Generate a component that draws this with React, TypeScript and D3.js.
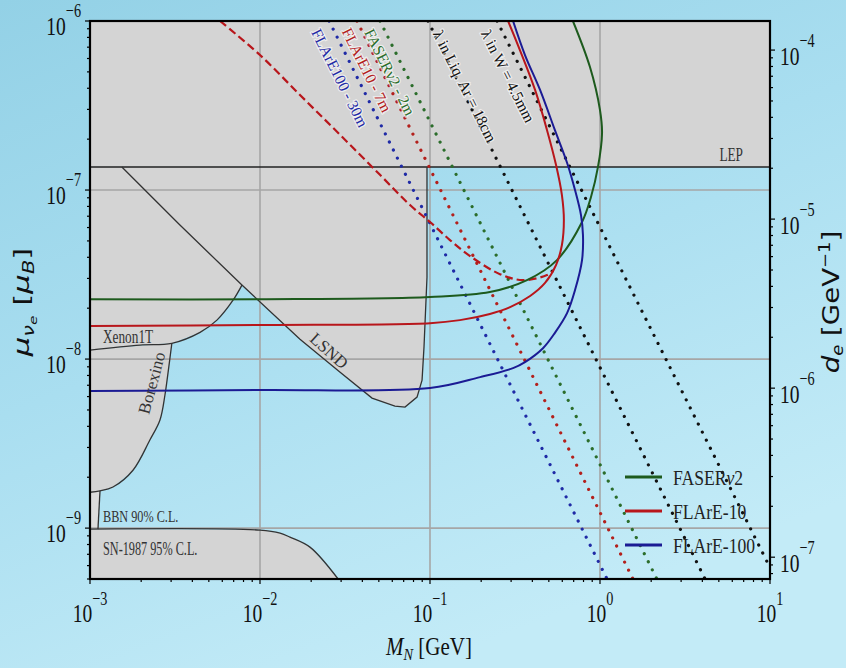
import React from 'react';
import * as d3 from 'd3';

type P = [number, number];

// ---------- axes ----------
const xMajor = [1e-3, 1e-2, 1e-1, 1, 10];
const xMajorExp = ['−3', '−2', '−1', '0', '1'];
const yMajor = [1e-9, 1e-8, 1e-7, 1e-6];
const yMajorExp = ['−9', '−8', '−7', '−6'];
const deMajor = [1e-7, 1e-6, 1e-5, 1e-4];
const deMajorExp = ['−7', '−6', '−5', '−4'];
const X_DOMAIN: P = [1e-3, 10];
const Y_DOMAIN: P = [5e-10, 1e-6];
const DE_PER_MU = 148.6;

// ---------- excluded regions (M_N [GeV], mu [mu_B]) ----------
const LEP_LIMIT = 1.37e-7;
const mainRegion: P[] = [
  [1e-3, 1.37e-7], [0.096, 1.37e-7], [0.096, 3.05e-8], [0.0922, 1.18e-8], [0.0898, 7.51e-9],
  [0.0839, 5.96e-9], [0.0713, 5.2e-9], [0.0622, 5.27e-9], [0.0456, 5.88e-9], [0.0296, 8.37e-9],
  [0.01719, 1.31e-8], [7.83e-3, 2.74e-8], [6.94e-3, 2.23e-8], [5.58e-3, 1.7e-8], [4.44e-3, 1.44e-8],
  [3.03e-3, 1.24e-8], [1.97e-3, 1.21e-8], [1e-3, 1.13e-8],
];
const lsndEdge: P[] = [
  [1.54e-3, 1.37e-7], [3.38e-3, 6.21e-8], [7.83e-3, 2.74e-8], [0.01719, 1.31e-8], [0.0296, 8.37e-9],
  [0.0456, 5.88e-9], [0.0622, 5.27e-9], [0.0713, 5.2e-9], [0.0839, 5.96e-9], [0.0898, 7.51e-9],
  [0.0922, 1.18e-8], [0.096, 3.05e-8], [0.096, 1.37e-7],
];
const xenonEdge: P[] = [
  [1e-3, 1.13e-8], [1.97e-3, 1.21e-8], [3.03e-3, 1.24e-8], [4.44e-3, 1.44e-8], [5.58e-3, 1.7e-8],
  [6.94e-3, 2.23e-8], [7.83e-3, 2.74e-8],
];
const borexinoEdge: P[] = [
  [3.03e-3, 1.24e-8], [2.84e-3, 7.51e-9], [2.76e-3, 6.13e-9], [2.58e-3, 4.36e-9], [2.25e-3, 3.32e-9],
  [1.79e-3, 2.2e-9], [1.365e-3, 1.75e-9], [1.145e-3, 1.66e-9], [1e-3, 1.63e-9],
];
const bbnEdge: P[] = [[1.145e-3, 1.66e-9], [1.114e-3, 9.86e-10]];
const snEdge: P[] = [
  [1e-3, 9.86e-10], [0.01, 9.73e-10], [0.01313, 9.33e-10], [0.015, 8.85e-10], [0.01967, 7.72e-10],
  [0.0288, 5e-10],
];

// ---------- sensitivity curves ----------
const faserCurve: P[] = [
  [1e-3, 2.26e-8], [0.01, 2.26e-8], [0.1, 2.33e-8], [0.225, 2.49e-8], [0.372, 2.93e-8],
  [0.558, 3.85e-8], [0.784, 6.47e-8], [0.885, 9.1e-8], [0.973, 1.37e-7], [1.028, 2.17e-7],
  [1.0, 2.97e-7], [0.873, 5.34e-7], [0.693, 1e-6],
];
const flare10Curve: P[] = [
  [1e-3, 1.57e-8], [0.01, 1.59e-8], [0.1, 1.63e-8], [0.15, 1.7e-8], [0.225, 1.85e-8],
  [0.296, 2.03e-8], [0.388, 2.36e-8], [0.475, 2.82e-8], [0.551, 3.6e-8], [0.597, 4.73e-8],
  [0.613, 6.64e-8], [0.597, 9.33e-8], [0.551, 1.41e-7], [0.488, 2.26e-7], [0.415, 3.91e-7],
  [0.338, 6.73e-7], [0.288, 1e-6],
];
const flare100Curve: P[] = [
  [1e-3, 6.47e-9], [0.01, 6.56e-9], [0.1, 6.74e-9], [0.197, 7.82e-9], [0.308, 8.84e-9],
  [0.362, 9.6e-9], [0.462, 1.16e-8], [0.543, 1.43e-8], [0.64, 1.87e-8], [0.713, 2.56e-8],
  [0.784, 3.85e-8], [0.794, 5.42e-8], [0.773, 7.11e-8], [0.713, 1e-7], [0.64, 1.45e-7],
  [0.543, 2.26e-7], [0.444, 3.91e-7], [0.362, 6.29e-7], [0.308, 1e-6],
];
const flare10Dashed: P[] = [
  [5.82e-3, 1e-6], [0.01, 6.29e-7], [0.01719, 3.65e-7], [0.0296, 2.12e-7], [0.0508, 1.23e-7],
  [0.0763, 8.15e-8], [0.1, 6.47e-8], [0.131, 5.06e-8], [0.172, 4.07e-8], [0.258, 3.18e-8],
  [0.352, 2.93e-8], [0.488, 3.14e-8], [0.529, 3.32e-8],
];

// ---------- decay length contours ----------
const flare100Decay: P[] = [[0.0255, 1e-6], [1.1, 5e-10]];
const flare10Decay: P[] = [[0.0372, 1e-6], [1.563, 5e-10]];
const faserDecay: P[] = [[0.0508, 1e-6], [2.16, 5e-10]];
const lArDecay: P[] = [[0.0973, 1e-6], [4.15, 5e-10]];
const wDecay: P[] = [[0.248, 1e-6], [10.8, 5e-10]];

const legendNames = ['FASERν2', 'FLArE-10', 'FLArE-100'];

const SERIF = "'Liberation Serif', 'DejaVu Serif', 'Times New Roman', serif";
const SANS = "'DejaVu Sans', sans-serif";
const C_GREEN = '#1d5a1d';
const C_RED = '#b8161b';
const C_BLUE = '#1b1b94';
const GREY = '#d4d4d4';

function T(props: any) {
  const { x, y, rot = 0, sx = 1, sy = 1, fs, anchor = 'start', fill = '#111', family = SERIF, children, ...rest } = props;
  return (
    <text
      transform={`translate(${x},${y}) rotate(${rot}) scale(${sx},${sy})`}
      fontSize={fs}
      textAnchor={anchor}
      fontFamily={family}
      fill={fill}
      {...rest}
    >
      {children}
    </text>
  );
}

export default function App() {
  const x = d3.scaleLog().domain(X_DOMAIN).range([90, 770]);
  const y = d3.scaleLog().domain(Y_DOMAIN).range([579, 21]);
  const yR = d3.scaleLog().domain([Y_DOMAIN[0] * DE_PER_MU, Y_DOMAIN[1] * DE_PER_MU]).range([579, 21]);

  const lin = d3.line<P>().x((d) => x(d[0])).y((d) => y(d[1]));
  const smooth = d3.line<P>().x((d) => x(d[0])).y((d) => y(d[1])).curve(d3.curveCatmullRom.alpha(0.5));
  const isMajor = (v: number) => Math.abs(Math.log10(v) - Math.round(Math.log10(v))) < 1e-6;

  const [x0, x1] = x.range();
  const [yb, yt] = y.range();

  const region = (pts: P[]) => lin(pts) + 'Z';

  const borexinoRegion: P[] = [[1e-3, 1.13e-8], ...borexinoEdge];
  const bbnRegion: P[] = [[1e-3, 1.63e-9], ...bbnEdge, [1e-3, 9.86e-10]];
  const snRegion: P[] = [...snEdge, [1e-3, 5e-10]];

  const decayLines = [
    { pts: flare100Decay, color: '#1f2aa6' },
    { pts: flare10Decay, color: '#b3201c' },
    { pts: faserDecay, color: '#2b6d2b' },
    { pts: lArDecay, color: '#111' },
    { pts: wDecay, color: '#111' },
  ];

  const lineLabels = [
    { text: 'FLArE100 - 30m', cx: 340, cy: 78, color: '#1f2aa6' },
    { text: 'FLArE10 - 7m', cx: 367, cy: 70, color: '#b3201c' },
    { text: 'FASERν2 - 2m', cx: 390, cy: 72, color: '#2b6d2b' },
    { text: 'λ in Liq. Ar = 18cm', cx: 465, cy: 86, color: '#111' },
    { text: 'λ in W = 4.5mm', cx: 508, cy: 76, color: '#111' },
  ];
  const legendColors = [C_GREEN, C_RED, C_BLUE];

  return (
    <svg width={846} height={668} style={{ position: 'absolute', left: 0, top: 0 }}>
      <defs>
        <linearGradient id="bg" x1="0" y1="0" x2="0.5" y2="1">
          <stop offset="0" stopColor="#93d1e6" />
          <stop offset="0.5" stopColor="#a9def0" />
          <stop offset="1" stopColor="#c3ebf7" />
        </linearGradient>
        <clipPath id="plot">
          <rect x={x0} y={yt} width={x1 - x0} height={yb - yt} />
        </clipPath>
      </defs>
      <rect x={0} y={0} width={846} height={668} fill="url(#bg)" />

      <g clipPath="url(#plot)">
        {/* excluded regions */}
        <rect x={x0} y={yt} width={x1 - x0} height={y(LEP_LIMIT) - yt} fill={GREY} />
        <path d={region(mainRegion)} fill={GREY} />
        <path d={region(borexinoRegion)} fill={GREY} />
        <path d={region(bbnRegion)} fill="#dcdcdc" />
        <path d={region(snRegion)} fill={GREY} />

        {/* grid */}
        {xMajor.slice(1, -1).map((v) => (
          <line key={'gx' + v} x1={x(v)} x2={x(v)} y1={yt} y2={yb} stroke="#a6a6a6" strokeWidth={1.6} />
        ))}
        {yMajor.slice(0, -1).map((v) => (
          <line key={'gy' + v} x1={x0} x2={x1} y1={y(v)} y2={y(v)} stroke="#a6a6a6" strokeWidth={1.6} />
        ))}

        {/* region edges */}
        <line x1={x0} x2={x1} y1={y(LEP_LIMIT)} y2={y(LEP_LIMIT)} stroke="#222" strokeWidth={1.6} />
        <path d={lin(lsndEdge) || ''} fill="none" stroke="#333" strokeWidth={1.3} />
        <path d={smooth(xenonEdge) || ''} fill="none" stroke="#333" strokeWidth={1.3} />
        <path d={smooth(borexinoEdge) || ''} fill="none" stroke="#333" strokeWidth={1.3} />
        <path d={lin(bbnEdge) || ''} fill="none" stroke="#333" strokeWidth={1.3} />
        <path d={smooth(snEdge) || ''} fill="none" stroke="#333" strokeWidth={1.3} />

        {/* decay length contours */}
        {decayLines.map((l, i) => (
          <path key={'dl' + i} d={lin(l.pts) || ''} fill="none" stroke={l.color} strokeWidth={3.2}
            strokeDasharray="0.01 9" strokeLinecap="round" />
        ))}

        {/* sensitivity curves */}
        <path d={smooth(flare10Dashed) || ''} fill="none" stroke={C_RED} strokeWidth={2.2} strokeDasharray="8 4" />
        <path d={smooth(faserCurve) || ''} fill="none" stroke={C_GREEN} strokeWidth={2} />
        <path d={smooth(flare10Curve) || ''} fill="none" stroke={C_RED} strokeWidth={2} />
        <path d={smooth(flare100Curve) || ''} fill="none" stroke={C_BLUE} strokeWidth={2} />
      </g>

      {/* region labels */}
      <T x={743} y={161} fs={19} sx={0.7} anchor="end" fill="#333">LEP</T>
      <T x={103} y={343} fs={19} sx={0.7} fill="#333">Xenon1T</T>
      <T x={103} y={522} fs={17} sx={0.72} fill="#333">BBN 90% C.L.</T>
      <T x={103} y={555} fs={18} sx={0.68} fill="#333">SN-1987 95% C.L.</T>
      <T x={152} y={383} fs={17} rot={-75} anchor="middle" dominantBaseline="central" fill="#333">Borexino</T>
      <T x={329} y={351} fs={17} rot={42} anchor="middle" dominantBaseline="central" fill="#333">LSND</T>

      {lineLabels.map((l, i) => (
        <T key={'ll' + i} x={l.cx} y={l.cy} fs={15.5} rot={63.4} anchor="middle" dominantBaseline="central"
          fill={l.color} stroke="#ffffff" strokeWidth={2.5} strokeOpacity={0.6} paintOrder="stroke">
          {l.text}
        </T>
      ))}

      {/* frame */}
      <rect x={x0} y={yt} width={x1 - x0} height={yb - yt} fill="none" stroke="#000" strokeWidth={2.2} />

      {/* ticks */}
      {x.ticks().map((v, i) => (
        <line key={'tx' + i} x1={x(v)} x2={x(v)} y1={yb} y2={yb + (isMajor(v) ? 5 : 3)} stroke="#000" strokeWidth={1.2} />
      ))}
      {y.ticks().map((v, i) => (
        <line key={'ty' + i} x1={x0} x2={x0 - (isMajor(v) ? 5 : 3)} y1={y(v)} y2={y(v)} stroke="#000" strokeWidth={1.2} />
      ))}
      {yR.ticks().map((v, i) => (
        <line key={'tr' + i} x1={x1} x2={x1 + (isMajor(v) ? 5 : 3)} y1={yR(v)} y2={yR(v)} stroke="#000" strokeWidth={1.2} />
      ))}

      {xMajor.map((v, i) => (
        <T key={'lx' + i} x={x(v)} y={622} fs={26} sx={0.75} anchor="middle">
          10<tspan fontSize={19} dy={-17}>{xMajorExp[i]}</tspan>
        </T>
      ))}
      {yMajor.map((v, i) => (
        <T key={'ly' + i} x={81} y={y(v) + 14} fs={26} sx={0.75} anchor="end">
          10<tspan fontSize={19} dy={-18}>{yMajorExp[i]}</tspan>
        </T>
      ))}
      {deMajor.map((v, i) => (
        <T key={'lr' + i} x={780} y={yR(v) + 15} fs={26} sx={0.75}>
          10<tspan fontSize={19} dy={-18}>{deMajorExp[i]}</tspan>
        </T>
      ))}

      {/* axis titles */}
      <T x={429} y={655} fs={25} sx={0.84} anchor="middle">
        <tspan fontStyle="italic">M</tspan>
        <tspan fontStyle="italic" fontSize={17} dy={5}>N</tspan>
        <tspan dy={-5}> [GeV]</tspan>
      </T>
      <T x={29} y={302} fs={22} rot={-90} sx={1.4} anchor="middle" family={SANS}>
        <tspan fontStyle="italic">μ</tspan>
        <tspan fontStyle="italic" fontSize={15} dy={5}>ν</tspan>
        <tspan fontStyle="italic" fontSize={11} dy={3}>e</tspan>
        <tspan dy={-8}> [</tspan>
        <tspan fontStyle="italic">μ</tspan>
        <tspan fontStyle="italic" fontSize={15} dy={5}>B</tspan>
        <tspan dy={-5}>]</tspan>
      </T>
      <T x={839} y={302} fs={23} rot={-90} sx={1.2} anchor="middle" family={SANS}>
        <tspan fontStyle="italic">d</tspan>
        <tspan fontStyle="italic" fontSize={15} dy={4}>e</tspan>
        <tspan dy={-4}> [GeV</tspan>
        <tspan fontSize={15} dy={-9}>−1</tspan>
        <tspan dy={9}>]</tspan>
      </T>

      {/* legend */}
      {legendNames.map((n, i) => (
        <g key={'lg' + i}>
          <line x1={625} x2={662} y1={477 + i * 34} y2={477 + i * 34} stroke={legendColors[i]} strokeWidth={3} />
          <T x={673} y={485 + i * 34} fs={22} sx={0.8} fill="#222">
            {i === 0 ? (<>FASER<tspan fontStyle="italic">ν</tspan>2</>) : n}
          </T>
        </g>
      ))}
    </svg>
  );
}
